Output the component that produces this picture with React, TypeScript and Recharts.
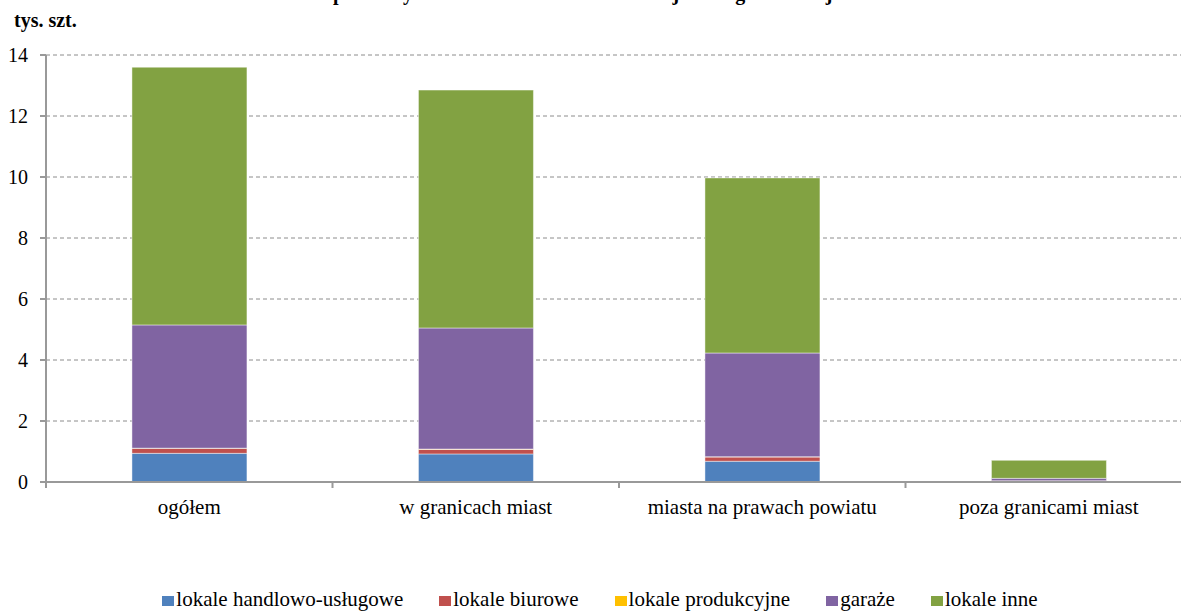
import React from "react";
import { BarChart, Bar, XAxis, YAxis, CartesianGrid } from "recharts";

const categories = ["ogółem", "w granicach miast", "miasta na prawach powiatu", "poza granicami miast"];

const handlowoUslugowe = [0.94, 0.92, 0.68, 0.02];
const biurowe = [0.16, 0.15, 0.14, 0.01];
const produkcyjne = [0.01, 0.01, 0.01, 0.01];
const garaze = [4.04, 3.97, 3.4, 0.08];
const inne = [8.45, 7.8, 5.74, 0.59];

const yTicks = [0, 2, 4, 6, 8, 10, 12, 14];

const series = [
  { key: "handlowo", name: "lokale handlowo-usługowe", color: "#4F81BD", values: handlowoUslugowe },
  { key: "biurowe", name: "lokale biurowe", color: "#C0504D", values: biurowe },
  { key: "produkcyjne", name: "lokale produkcyjne", color: "#FFC000", values: produkcyjne },
  { key: "garaze", name: "garaże", color: "#8064A2", values: garaze },
  { key: "inne", name: "lokale inne", color: "#82A242", values: inne },
];

const data = categories.map((name, i) => {
  const row: Record<string, string | number> = { name };
  series.forEach((s) => {
    row[s.key] = s.values[i];
  });
  return row;
});

const FONT = "Liberation Serif";
const WIDTH = 1200;
const HEIGHT = 611;
const MARGIN = { top: 55, right: 8, left: 0, bottom: 99 };
const Y_WIDTH = 46;
const BAND = (WIDTH - MARGIN.right - MARGIN.left - Y_WIDTH) / categories.length;

// tick line sits on the category boundary, label in the middle
const CategoryTick = (props: any) => {
  const { x, y, payload } = props;
  const bx = x - BAND / 2;
  return (
    <g>
      <line x1={bx} x2={bx} y1={y - 6} y2={y} stroke="#999" strokeWidth={2} />
      <text x={x} y={y + 26} textAnchor="middle" fontFamily={FONT} fontSize={21} fill="#000">
        {payload.value}
      </text>
    </g>
  );
};

export default function App() {
  return (
    <div style={{ position: "absolute", left: 0, top: 0, width: 1181, height: HEIGHT, overflow: "hidden", background: "#fff", fontFamily: FONT }}>
      {/* title sits above the picture edge, only descenders show */}
      <svg width={1181} height={12} style={{ position: "absolute", left: 0, top: 0 }}>
        <text x={838} y={-0.5} textAnchor="end" fontFamily={FONT} fontWeight="bold" fontSize={20} fill="#000">
          pozostałych lokali własności komunalnej według lokalizacji
        </text>
      </svg>
      <div style={{ position: "absolute", left: 14, top: 10, fontWeight: "bold", fontSize: 20, lineHeight: "20px" }}>
        tys. szt.
      </div>
      <BarChart width={WIDTH} height={HEIGHT} data={data} margin={MARGIN} barCategoryGap="30%">
        <CartesianGrid vertical={false} stroke="#8c8c8c" strokeDasharray="4 3" />
        <XAxis
          dataKey="name"
          height={30}
          stroke="#999"
          strokeWidth={2}
          tickLine={false}
          tickSize={6}
          tickMargin={0}
          tick={<CategoryTick />}
          interval={0}
        />
        <YAxis
          width={Y_WIDTH}
          domain={[0, 14]}
          ticks={yTicks}
          stroke="#999"
          strokeWidth={2}
          tickSize={6}
          tickMargin={12}
          tick={{ fill: "#000", fontFamily: FONT, fontSize: 20 }}
        />
        {series.map((s) => (
          <Bar
            key={s.key}
            dataKey={s.key}
            name={s.name}
            stackId="a"
            fill={s.color}
            stroke="#ffffff"
            strokeOpacity={0.45}
            strokeWidth={1}
            isAnimationActive={false}
          />
        ))}
      </BarChart>
      <div
        style={{
          position: "absolute",
          top: 588,
          left: 0,
          width: WIDTH,
          display: "flex",
          justifyContent: "center",
          fontSize: 21,
          lineHeight: "22px",
        }}
      >
        {series.map((s, i) => (
          <div
            key={s.key}
            style={{ display: "flex", alignItems: "flex-end", marginRight: i < series.length - 1 ? 36 : 0 }}
          >
            <span style={{ display: "inline-block", width: 12, height: 10, background: s.color, marginRight: 2, marginBottom: 4 }} />
            <span>{s.name}</span>
          </div>
        ))}
      </div>
    </div>
  );
}
